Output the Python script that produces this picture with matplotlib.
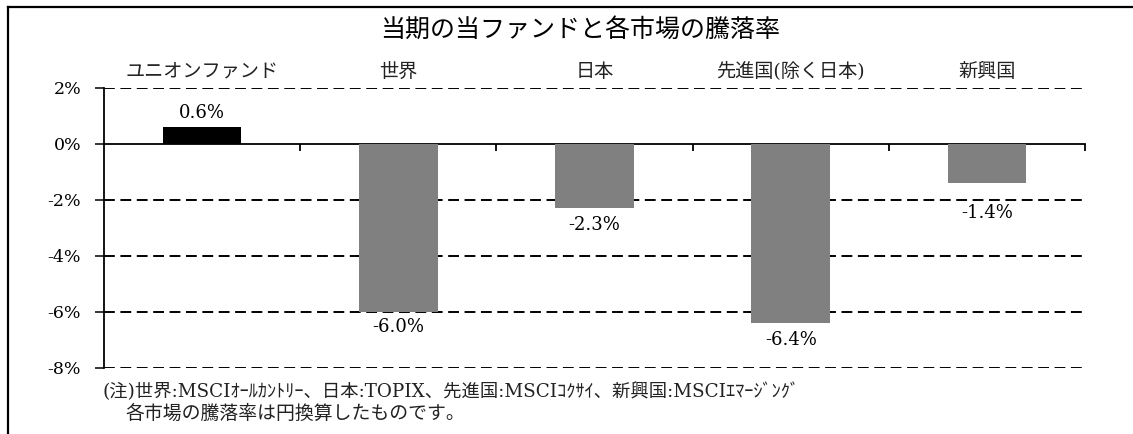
import matplotlib
matplotlib.use('Agg')
import matplotlib.pyplot as plt
from matplotlib.lines import Line2D

plt.rcParams['font.family'] = ['DejaVu Serif', 'Noto Sans CJK JP', 'DejaVu Sans']
plt.rcParams['lines.scale_dashes'] = False

# data
categories = ['ユニオンファンド', '世界', '日本', '先進国(除く日本)', '新興国']
returns = [0.6, -6.0, -2.3, -6.4, -1.4]
bar_colors = ['#000000', '#808080', '#808080', '#808080', '#808080']
yticks = [2, 0, -2, -4, -6, -8]
title = '当期の当ファンドと各市場の騰落率'
note1 = '(注)世界:MSCIｵｰﾙｶﾝﾄﾘｰ、日本:TOPIX、先進国:MSCIｺｸｻｲ、新興国:MSCIｴﾏｰｼﾞﾝｸﾞ'
note2 = '各市場の騰落率は円換算したものです。'

# label gap from bar end (the last one is pushed below the gridline in the original)
label_gap = [0.5, 0.55, 0.6, 0.6, 1.05]

W, H = 1133, 434
fig = plt.figure(figsize=(W / 100, H / 100), dpi=100)
ax = fig.add_axes([104 / W, 1 - 368 / H, (1085 - 104) / W, (368 - 88) / H])

x = list(range(len(categories)))
ax.bar(x, returns, width=0.4, color=bar_colors, zorder=3)

ax.set_xlim(-0.5, len(categories) - 0.5)
ax.set_ylim(min(yticks), max(yticks))

# dashed gridlines, solid zero line
for yv in yticks:
    if yv == 0:
        continue
    ax.axhline(yv, color='black', lw=1.4, dashes=(7.8, 4.0), zorder=1)

for s in ['top', 'right']:
    ax.spines[s].set_visible(False)
ax.spines['bottom'].set_position(('data', 0))
ax.spines['bottom'].set_linewidth(1.3)
ax.spines['left'].set_linewidth(1.3)

ax.set_xticks([i + 0.5 for i in x])
ax.set_xticklabels([])
ax.tick_params(axis='x', direction='out', length=5, width=1.3)

ax.set_yticks(yticks)
ax.set_yticklabels([f'{v}%' for v in yticks], fontsize=12.5)
ax.tick_params(axis='y', direction='out', length=6.5, width=1.1, pad=10)

for i, (name, val) in enumerate(zip(categories, returns)):
    ax.text(i, 2.57, name, ha='center', va='center', fontsize=13.8, color='#222222')
    if val >= 0:
        ax.text(i, val + label_gap[i], f'{val:.1f}%', ha='center', va='center', fontsize=13)
    else:
        ax.text(i, val - label_gap[i], f'{val:.1f}%', ha='center', va='center', fontsize=13)

fig.text(580 / W, 1 - 30 / H, title, ha='center', va='center', fontsize=18,
         family=['Noto Sans CJK JP', 'DejaVu Sans'])
fig.text(103 / W, 1 - 392 / H, note1, ha='left', va='center', fontsize=13.2, color='#222222')
fig.text(125 / W, 1 - 414 / H, note2, ha='left', va='center', fontsize=13.6, color='#222222')

# outer frame (top and left edges visible)
fig.add_artist(Line2D([8 / W, 1], [1 - 7 / H, 1 - 7 / H], color='black', lw=1.6,
                      transform=fig.transFigure))
fig.add_artist(Line2D([8 / W, 8 / W], [0, 1 - 7 / H], color='black', lw=1.6,
                      transform=fig.transFigure))

fig.savefig('out.png', dpi=100, facecolor='white')
